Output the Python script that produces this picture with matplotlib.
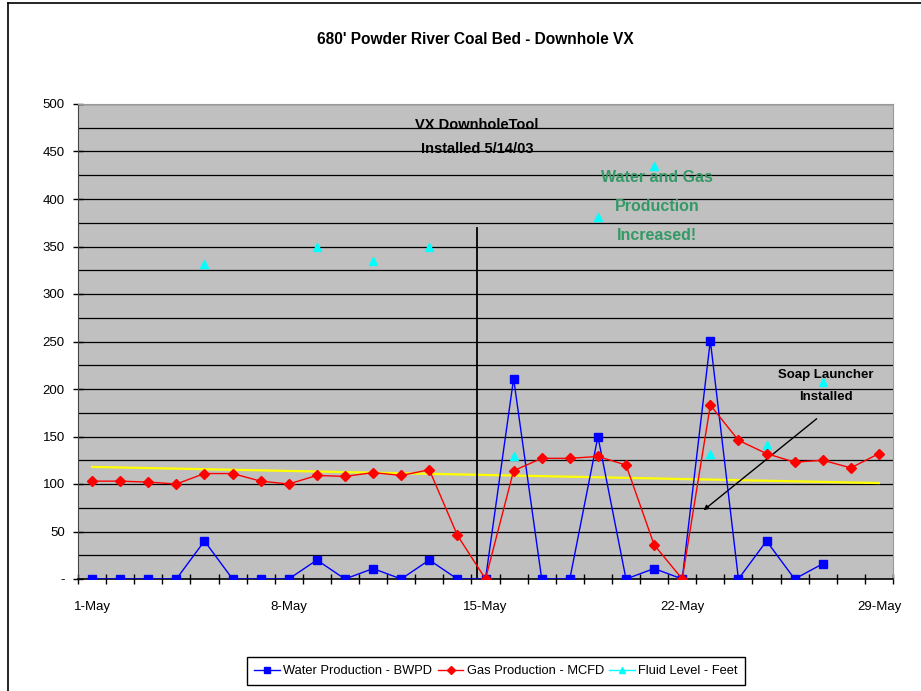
import matplotlib
matplotlib.use("Agg")
import numpy as np
import matplotlib.pyplot as plt
from matplotlib.lines import Line2D

plt.rcParams.update({"font.family": ["Liberation Sans", "DejaVu Sans"], "font.size": 10})

NAN = np.nan
DAYS = list(range(1, 30))
DAY_LABELS = {1: "1-May", 8: "8-May", 15: "15-May", 22: "22-May", 29: "29-May"}

WATER = [0, 0, 0, 0, 40, 0, 0, 0, 20, 0, 11, 0, 20, 0, 0, 211, 0, 0, 150, 0,
         11, 0, 251, 0, 40, 0, 16, NAN, NAN]
GAS = [103, 103, 102, 100, 111, 111, 103, 100, 109, 108, 112, 109, 115, 46, 0,
       114, 127, 127, 129, 120, 36, 0, 183, 146, 132, 123, 125, 117, 132]
FLUID = [NAN, NAN, NAN, NAN, 332, NAN, NAN, NAN, 350, NAN, 335, NAN, 350, NAN, NAN,
         130, NAN, NAN, 381, NAN, 435, NAN, 132, NAN, 141, NAN, 207, NAN, NAN]
TREND_ENDS = [118, 101]          # gas trendline at day 1 and day 29
INSTALL_DAY, INSTALL_TOP = 14.7, 370

BLUE = "#0000FF"; RED = "#FF0000"; CYAN = "#00FFFF"; YELLOW = "#FFFF00"
GREEN = "#339966"; PLOT_BG = "#C0C0C0"

fig = plt.figure(figsize=(9.21, 6.91), dpi=100)
ax = fig.add_axes([78 / 921, 1 - 579 / 691, 815 / 921, 475 / 691])
ax.set_facecolor(PLOT_BG)

# horizontal gridlines every 25
for g in np.arange(25, 501, 25):
    ax.axhline(g, color="black", lw=0.9, zorder=1)

ax.plot([DAYS[0], DAYS[-1]], TREND_ENDS, color=YELLOW, lw=1.6, zorder=2)
ax.plot(DAYS, WATER, color=BLUE, lw=1, marker="s", ms=5.5, zorder=4,
        label="Water Production - BWPD")
ax.plot(DAYS, GAS, color=RED, lw=1, marker="D", ms=5, zorder=5,
        label="Gas Production - MCFD")
ax.plot(DAYS, FLUID, color=CYAN, lw=1, marker="^", ms=6, zorder=3,
        label="Fluid Level - Feet")

ax.plot([INSTALL_DAY, INSTALL_DAY], [0, INSTALL_TOP], color="black", lw=1.3, zorder=3)

ax.set_xlim(0.5, 29.5)
ax.set_ylim(0, 500)
ax.set_xticks(list(DAY_LABELS.keys()))
ax.set_xticklabels(list(DAY_LABELS.values()))
ax.set_xticks(np.arange(0.5, 30, 1), minor=True)
ax.tick_params(axis="x", which="major", length=0, pad=16, labelsize=9.5)
ax.tick_params(axis="x", which="minor", length=7, direction="inout", width=1)
ax.set_yticks(np.arange(0, 501, 50))
ax.set_yticklabels(["-"] + [str(v) for v in range(50, 501, 50)])
ax.tick_params(axis="y", length=7, direction="inout", width=1, labelsize=9.5, pad=6)

for s in ("top", "right"):
    ax.spines[s].set_color("#999999")
ax.spines["left"].set_color("#444444")
ax.spines["bottom"].set_color("black")
ax.spines["bottom"].set_linewidth(1.2)

ax.text(INSTALL_DAY, 465, "VX DownholeTool\nInstalled 5/14/03", ha="center", va="center",
        fontsize=10.5, fontweight="bold", linespacing=1.9)
ax.text(21.1, 392, "Water and Gas\nProduction\nIncreased!", ha="center", va="center",
        fontsize=11.5, fontweight="bold", color=GREEN, linespacing=2.2)
ax.annotate("", xy=(22.68, 70.5), xytext=(26.86, 170.5),
            arrowprops=dict(arrowstyle="-|>", color="black", lw=1, mutation_scale=7))
ax.text(27.1, 203, "Soap Launcher\nInstalled", ha="center", va="center",
        fontsize=9.5, fontweight="bold", linespacing=2.1)

fig.text(475 / 921, 1 - 40 / 691, "680' Powder River Coal Bed - Downhole VX", ha="center",
         va="center", fontsize=11.2, fontweight="bold")

leg = fig.legend(loc="center", bbox_to_anchor=(496 / 921, 1 - 671 / 691), ncol=3,
                 fancybox=False, edgecolor="black", framealpha=1, fontsize=9.3,
                 handlelength=2.0, handletextpad=0.25, columnspacing=0.4, borderpad=0.6,
                 markerscale=0.8)
leg.get_frame().set_linewidth(1)

# outer chart border (top and left visible)
fig.add_artist(Line2D([8 / 921, 1.0], [1 - 3 / 691, 1 - 3 / 691], color="black", lw=1.2))
fig.add_artist(Line2D([8 / 921, 8 / 921], [0, 1 - 3 / 691], color="black", lw=1.2))

fig.savefig("out.png", dpi=100, facecolor="white")
